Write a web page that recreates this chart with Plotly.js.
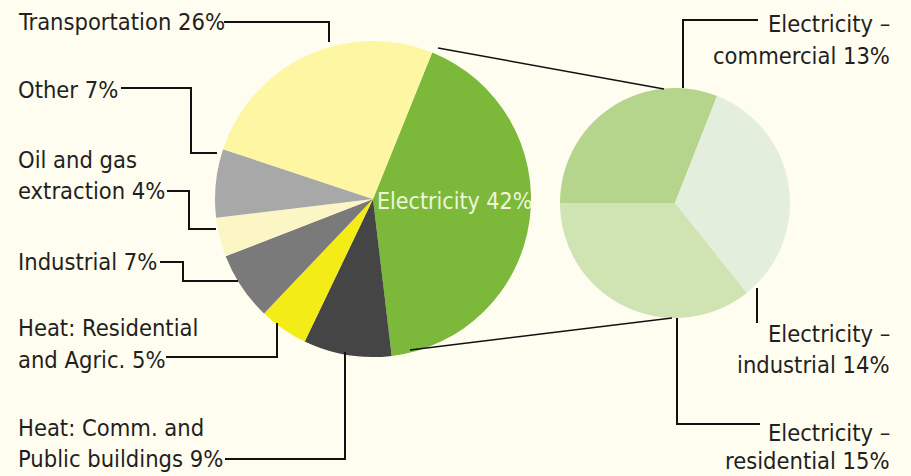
<!DOCTYPE html>
<html>
<head>
<meta charset="utf-8">
<script src="https://cdn.plot.ly/plotly-3.0.1.min.js"></script>
<style>html,body{margin:0;padding:0;background:#fefdf0;}#chart{width:911px;height:476px;}</style>
</head>
<body>
<div id="chart"></div>
<script>
// ---- data ----
const mainLabels = ['Electricity', 'Heat: Comm. and Public buildings', 'Heat: Residential and Agric.', 'Industrial', 'Oil and gas extraction', 'Other', 'Transportation'];
const mainValues = [42, 9, 5, 7, 4, 7, 26];
const mainColors = ['#7cb93b', '#454545', '#f3ec17', '#7a7a7a', '#fcf5c6', '#a8a8a8', '#fdf6a2'];

const elecLabels = ['Electricity – commercial', 'Electricity – industrial', 'Electricity – residential'];
const elecValues = [13, 14, 15];
const elecColors = ['#b5d58c', '#e4eedc', '#cfe3b3'];

// label texts (one entry per line)
const leftLabelLines = [
  ['Transportation 26%'],
  ['Other 7%'],
  ['Oil and gas', 'extraction 4%'],
  ['Industrial 7%'],
  ['Heat: Residential', 'and Agric. 5%'],
  ['Heat: Comm. and', 'Public buildings 9%']
];
const rightLabelLines = [
  ['Electricity –', 'commercial 13%'],
  ['Electricity –', 'industrial 14%'],
  ['Electricity –', 'residential 15%']
];
const centerLabel = 'Electricity 42%';

// ---- layout helpers ----
const W = 911, H = 476;
const px = x => x / W;
const py = y => 1 - y / H;
const FONT = '"DejaVu Sans Condensed", "Liberation Sans Narrow", sans-serif';
const FS = 23.5;
const TXT = '#231f20';

function domainFor(cx, cy, r) {
  return {x: [px(cx - r), px(cx + r)], y: [py(cy + r), py(cy - r)]};
}

const data = [
  {
    type: 'pie', labels: mainLabels, values: mainValues, sort: false,
    direction: 'clockwise', rotation: 22, textinfo: 'none', hoverinfo: 'label+percent',
    marker: {colors: mainColors, line: {width: 0}},
    domain: domainFor(373, 199, 158), showlegend: false
  },
  {
    type: 'pie', labels: elecLabels, values: elecValues, sort: false,
    direction: 'clockwise', rotation: -90, textinfo: 'none', hoverinfo: 'label+value',
    marker: {colors: elecColors, line: {width: 0}},
    domain: domainFor(675, 203, 115), showlegend: false
  }
];

// label line positions (pixel centres)
const leftLineY = [[22], [90], [160, 191], [262], [328, 360], [428, 459]];
const rightLineY = [[24, 56], [334, 365], [433, 461]];

const annotations = [];
leftLabelLines.forEach((lines, i) => {
  lines.forEach((t, j) => {
    annotations.push({text: t, xref: 'paper', yref: 'paper', x: px(16), y: py(leftLineY[i][j]),
      xanchor: 'left', yanchor: 'middle', showarrow: false, font: {family: FONT, size: FS, color: TXT}});
  });
});
rightLabelLines.forEach((lines, i) => {
  lines.forEach((t, j) => {
    annotations.push({text: t, xref: 'paper', yref: 'paper', x: px(892), y: py(rightLineY[i][j]),
      xanchor: 'right', yanchor: 'middle', showarrow: false, font: {family: FONT, size: FS, color: TXT}});
  });
});
annotations.push({text: centerLabel, xref: 'paper', yref: 'paper', x: px(375), y: py(201),
  xanchor: 'left', yanchor: 'middle', showarrow: false, font: {family: FONT, size: 23, color: '#eef5da'}});

function poly(pts, w) {
  const d = pts.map((p, k) => (k ? 'L' : 'M') + px(p[0]) + ',' + py(p[1])).join(' ');
  return {type: 'path', xref: 'paper', yref: 'paper', path: d, line: {color: '#111', width: w || 2}, layer: 'above'};
}

const shapes = [
  // connectors between pies
  poly([[438, 48], [664, 89]], 1.5),
  poly([[410, 350], [672, 318]], 1.5),
  // left leader lines
  poly([[224, 22], [329, 22], [329, 42]]),
  poly([[121, 88], [191, 88], [191, 153], [217, 153]]),
  poly([[167, 191], [189, 191], [189, 229], [216, 229]]),
  poly([[160, 262], [183, 262], [183, 281], [238, 281]]),
  poly([[166, 357], [277, 357], [277, 323]]),
  poly([[225, 459], [345, 459], [345, 352]]),
  // right leader lines
  poly([[758, 20], [683, 20], [683, 88]]),
  poly([[757, 288], [757, 323]]),
  poly([[677, 318], [677, 424], [760, 424]])
];

const layout = {
  width: W, height: H,
  margin: {l: 0, r: 0, t: 0, b: 0},
  paper_bgcolor: '#fefdf0', plot_bgcolor: '#fefdf0',
  showlegend: false,
  annotations: annotations,
  shapes: shapes
};

Plotly.newPlot('chart', data, layout, {displayModeBar: false, staticPlot: true});
</script>
</body>
</html>
